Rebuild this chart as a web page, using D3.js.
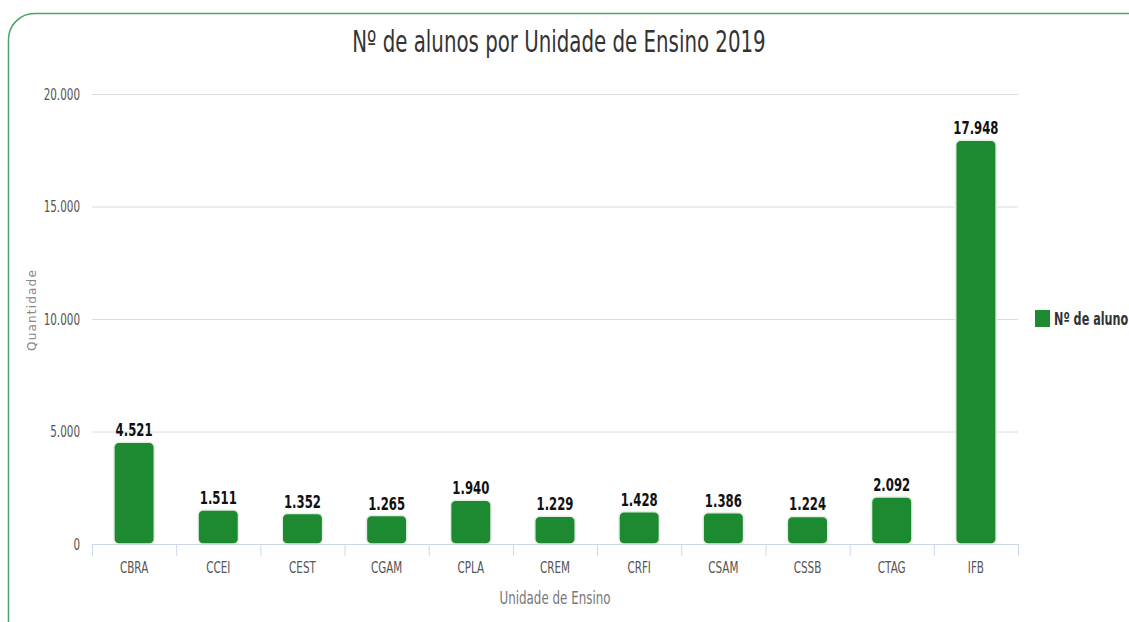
<!DOCTYPE html>
<html>
<head>
<meta charset="utf-8">
<script src="https://cdn.jsdelivr.net/npm/d3@7"></script>
<style>
  body { margin: 0; background: #fff; }
  svg { display: block; }
  text { font-family: 'DejaVu Sans', sans-serif; }
</style>
</head>
<body>
<div id="chart"></div>
<script>
// Values
const units = ["CBRA", "CCEI", "CEST", "CGAM", "CPLA", "CREM", "CRFI", "CSAM", "CSSB", "CTAG", "IFB"];
const students = [4521, 1511, 1352, 1265, 1940, 1229, 1428, 1386, 1224, 2092, 17948];
const yTicks = [0, 5000, 10000, 15000, 20000];

const width = 1129;
const height = 622;
const margin = { top: 94, bottom: 78, left: 92, right: 111 };
const barColor = "#1d8a32";
// no condensed font installed, so squeeze text horizontally
const K = 0.65;
const squeeze = (cx, cy, k = K) => `translate(${cx},${cy}) scale(${k},1)`;

const svg = d3.select("#chart")
    .append("svg")
    .attr("width", width)
    .attr("height", height);

// Rounded green frame
svg.append("rect")
    .attr("x", 8.5)
    .attr("y", 13.5)
    .attr("width", 1150)
    .attr("height", 640)
    .attr("rx", 26)
    .attr("fill", "none")
    .attr("stroke", "#4aa36a")
    .attr("stroke-width", 1.5);

const x = d3.scaleBand()
    .domain(units)
    .range([margin.left, width - margin.right])
    .paddingInner(0.52)
    .paddingOuter(0.26);

const y = d3.scaleLinear()
    .domain([0, 20000])
    .range([height - margin.bottom, margin.top]);

const fmt = d3.formatLocale({ decimal: ",", thousands: ".", grouping: [3], currency: ["", ""] }).format(",d");

const data = units.map((u, i) => ({ name: u, value: students[i] }));

// Gridlines
svg.append("g")
    .selectAll("line")
    .data(yTicks.filter(d => d > 0))
    .join("line")
        .attr("x1", margin.left)
        .attr("x2", width - margin.right)
        .attr("y1", d => y(d) + 0.5)
        .attr("y2", d => y(d) + 0.5)
        .attr("stroke", "#dcdcdc");

// Y axis labels
svg.append("g")
    .attr("transform", `translate(${margin.left - 12}, 0)`)
    .call(d3.axisLeft(y).tickValues(yTicks).tickFormat(fmt).tickSize(0).tickPadding(0))
    .call(g => g.select(".domain").remove())
    .call(g => g.selectAll("text")
        .attr("font-family", null)
        .attr("font-size", "16px")
        .attr("transform", `scale(${K},1)`)
        .attr("fill", "#555"));

// Bars
svg.append("g")
    .selectAll("rect")
    .data(data)
    .join("rect")
        .attr("x", d => x(d.name))
        .attr("y", d => y(d.value))
        .attr("width", x.bandwidth())
        .attr("height", d => y(0) - y(d.value))
        .attr("rx", 5)
        .attr("fill", barColor)
        .attr("stroke", "#e4efe4")
        .attr("stroke-width", 1.5);

// Value labels
svg.append("g")
    .selectAll("text")
    .data(data)
    .join("text")
        .attr("transform", d => squeeze(x(d.name) + x.bandwidth() / 2, y(d.value) - 6))
        .attr("text-anchor", "middle")
        .attr("font-weight", "bold")
        .attr("font-size", "18px")
        .attr("fill", "#111")
        .text(d => fmt(d.value));

// X axis with boundary ticks
const xAxisG = svg.append("g")
    .attr("transform", `translate(0, ${y(0)})`);

xAxisG.append("line")
    .attr("x1", margin.left)
    .attr("x2", width - margin.right)
    .attr("y1", 0.5)
    .attr("y2", 0.5)
    .attr("stroke", "#ccd6eb");

const step = x.step();
xAxisG.selectAll(".tick-b")
    .data(d3.range(units.length + 1))
    .join("line")
        .attr("class", "tick-b")
        .attr("x1", i => margin.left + i * step + 0.5)
        .attr("x2", i => margin.left + i * step + 0.5)
        .attr("y1", 0)
        .attr("y2", 12)
        .attr("stroke", "#ccd6eb");

xAxisG.selectAll(".lbl")
    .data(units)
    .join("text")
        .attr("class", "lbl")
        .attr("transform", d => squeeze(x(d) + x.bandwidth() / 2, 29))
        .attr("text-anchor", "middle")
        .attr("font-size", "16px")
        .attr("fill", "#555")
        .text(d => d);

// Axis titles
svg.append("text")
    .attr("transform", squeeze(555, 604, 0.7))
    .attr("text-anchor", "middle")
    .attr("font-size", "17px")
    .attr("fill", "#777")
    .text("Unidade de Ensino");

svg.append("text")
    .attr("transform", `translate(36, 310) rotate(-90)`)
    .attr("text-anchor", "middle")
    .attr("font-size", "12px")
    .attr("letter-spacing", "1.2px")
    .attr("fill", "#888")
    .text("Quantidade");

// Title
svg.append("text")
    .attr("transform", squeeze(559, 52, 0.66))
    .attr("text-anchor", "middle")
    .attr("font-size", "30px")
    .attr("fill", "#333")
    .text("Nº de alunos por Unidade de Ensino 2019");

// Legend
const legend = svg.append("g")
    .attr("transform", `translate(1035, 310)`);
legend.append("rect")
    .attr("width", 15)
    .attr("height", 17)
    .attr("fill", barColor);
legend.append("text")
    .attr("transform", squeeze(19, 15, 0.66))
    .attr("font-weight", "bold")
    .attr("font-size", "17px")
    .attr("fill", "#333")
    .text("Nº de aluno");
</script>
</body>
</html>
